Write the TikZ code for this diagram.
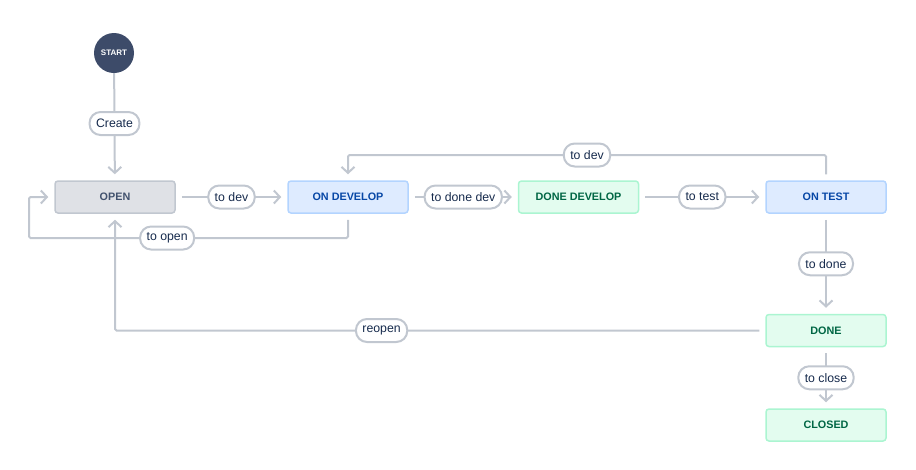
\documentclass[tikz,border=0pt]{standalone}
\usepackage{fontspec}
\setmainfont{Liberation Sans}
\usetikzlibrary{arrows.meta}
\definecolor{edgec}{HTML}{C1C7D0}
\definecolor{txt}{HTML}{172B4D}
\definecolor{greyfill}{HTML}{DFE1E6}
\definecolor{greytxt}{HTML}{42526E}
\definecolor{bluefill}{HTML}{DEEBFF}
\definecolor{blueborder}{HTML}{B3D4FF}
\definecolor{bluetxt}{HTML}{0747A6}
\definecolor{greenfill}{HTML}{E3FCEF}
\definecolor{greenborder}{HTML}{ABF5D1}
\definecolor{greentxt}{HTML}{006644}
\definecolor{startfill}{HTML}{3D4B69}
\begin{document}
\begin{tikzpicture}[x=1pt,y=-1pt,
  state/.style={draw, line width=1.5pt, rounded corners=3pt, minimum width=120pt, minimum height=32pt, inner sep=0pt, font=\fontsize{10.8}{12}\selectfont\bfseries},
  greystate/.style={state, fill=greyfill, draw=edgec, text=greytxt},
  bluestate/.style={state, fill=bluefill, draw=blueborder, text=bluetxt},
  greenstate/.style={state, fill=greenfill, draw=greenborder, text=greentxt},
  edge/.style={draw=edgec, line width=2pt, rounded corners=1.5pt, shorten <=6pt, shorten >=6pt, -{Straight Barb[length=6pt,width=13pt]}},
  lbl/.style={draw=edgec, line width=2pt, fill=white, text=txt, rounded corners=11pt, minimum height=23pt, inner xsep=6.5pt, inner ysep=0pt, font=\fontsize{12.3}{14}\selectfont}
]
\useasboundingbox (0,0) rectangle (916,469);
\node[circle, fill=startfill, minimum size=40pt, inner sep=0pt, text=white, font=\fontsize{8}{9}\selectfont\bfseries] (start) at (114,53) {START};
\node[greystate] (open) at (115,197) {OPEN};
\node[bluestate] (ondev) at (348,197) {ON DEVELOP};
\node[greenstate] (donedev) at (578.5,197) {DONE DEVELOP};
\node[bluestate] (ontest) at (826,197) {ON TEST};
\node[greenstate] (done) at (826,330.5) {DONE};
\node[greenstate] (closed) at (826,425) {CLOSED};
\coordinate (c1) at (29,238);
\coordinate (c2) at (29,197);

\draw[edge, shorten <=0pt] (start) -- node[lbl, pos=0.47] (lcreate) {Create} (open);
\draw[edge] (open) -- node[lbl] (ltodev) {to dev} (ondev);
\draw[edge] (ondev) -- node[lbl] (ltodonedev) {to done dev} (donedev);
\draw[edge] (donedev) -- node[lbl] (ltotest) {to test} (ontest);
\draw[edge] (ontest.north) -- (ontest.north |- 0,155) -- node[lbl] (ltodev2) {to dev} (ondev.north |- 0,155) -- (ondev.north);
\draw[edge] (ondev.south) -- (ondev.south |- c1) -- node[lbl, pos=0.567] (ltoopen) {to open} (c1) -- (c2) -- (open.west);
\draw[edge] (ontest) -- node[lbl] (ltodone) {to done} (done);
\draw[edge] (done.west) -- (open.south |- done.west) node[lbl, pos=0.59] (lreopen) {reopen} -- (open.south);
\draw[edge] (done) -- node[lbl] (ltoclose) {to close} (closed);
\end{tikzpicture}
\end{document}
